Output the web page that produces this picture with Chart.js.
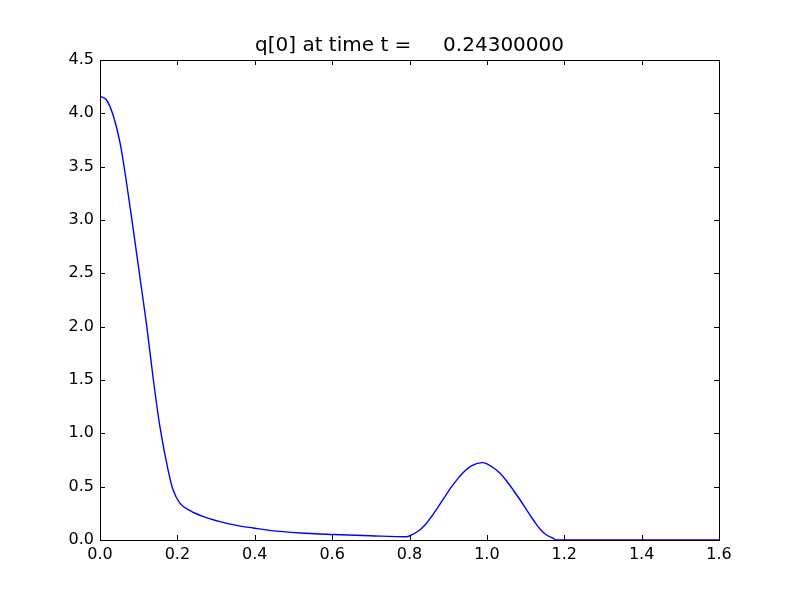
<!DOCTYPE html>
<html>
<head>
<meta charset="utf-8">
<script src="https://cdn.jsdelivr.net/npm/chart.js@4/dist/chart.umd.min.js"></script>
<style>
html,body{margin:0;padding:0;background:#fff;}
#wrap{width:800px;height:600px;}
</style>
</head>
<body>
<div id="wrap"><canvas id="c" width="800" height="600"></canvas></div>
<script>
const titleText = "q[0] at time t =     0.24300000";
const xValues = [0, 0.017, 0.035, 0.052, 0.069, 0.086, 0.103, 0.121, 0.138, 0.155, 0.176, 0.189, 0.207, 0.233, 0.267, 0.31, 0.353, 0.396, 0.439, 0.517, 0.603, 0.7, 0.793, 0.798, 0.823, 0.84, 0.857, 0.874, 0.892, 0.909, 0.926, 0.943, 0.961, 0.988, 1.016, 1.034, 1.051, 1.068, 1.086, 1.103, 1.12, 1.137, 1.154, 1.172, 1.18, 1.6];
const qValues = [4.16, 4.125, 3.97, 3.72, 3.34, 2.91, 2.47, 2.0, 1.5, 1.06, 0.656, 0.469, 0.344, 0.275, 0.219, 0.172, 0.137, 0.1125, 0.09, 0.066, 0.052, 0.04, 0.031, 0.035, 0.084, 0.14, 0.22, 0.31, 0.41, 0.5, 0.58, 0.647, 0.697, 0.725, 0.68, 0.625, 0.553, 0.469, 0.375, 0.281, 0.1875, 0.103, 0.047, 0.016, 0.0, 0.0];
const xTicks = [0.0, 0.2, 0.4, 0.6, 0.8, 1.0, 1.2, 1.4, 1.6];
const yTicks = [0.0, 0.5, 1.0, 1.5, 2.0, 2.5, 3.0, 3.5, 4.0, 4.5];

const points = xValues.map((x, i) => ({x: x, y: qValues[i]}));

const framePlugin = {
  id: 'frame',
  afterDatasetsDraw(chart) {
    const {ctx, chartArea: a, scales} = chart;
    ctx.save();
    ctx.strokeStyle = '#000';
    ctx.lineWidth = 1;
    const L = 5;
    ctx.beginPath();
    xTicks.forEach(v => {
      const px = Math.round(scales.x.getPixelForValue(v)) + 0.5;
      ctx.moveTo(px, a.bottom); ctx.lineTo(px, a.bottom - L);
      ctx.moveTo(px, a.top); ctx.lineTo(px, a.top + L);
    });
    yTicks.forEach(v => {
      const py = Math.round(scales.y.getPixelForValue(v)) + 0.5;
      ctx.moveTo(a.left, py); ctx.lineTo(a.left + L, py);
      ctx.moveTo(a.right, py); ctx.lineTo(a.right - L, py);
    });
    ctx.stroke();
    ctx.strokeRect(Math.round(a.left) + 0.5, Math.round(a.top) + 0.5, Math.round(a.right - a.left), Math.round(a.bottom - a.top));
    ctx.restore();
  }
};

new Chart(document.getElementById('c'), {
  type: 'line',
  data: {
    datasets: [{
      data: points,
      borderColor: '#0000ff',
      borderWidth: 1.4,
      pointRadius: 0,
      fill: false,
      cubicInterpolationMode: 'monotone'
    }]
  },
  options: {
    responsive: false,
    animation: false,
    devicePixelRatio: 1,
    layout: {padding: {left: 0, right: 81, top: 0, bottom: 0}},
    plugins: {
      legend: {display: false},
      tooltip: {enabled: false},
      title: {
        display: true,
        text: titleText,
        fullSize: false,
        color: '#000',
        font: {family: 'DejaVu Sans', size: 20, weight: 'normal', lineHeight: 1.2},
        padding: {top: 34, bottom: 2}
      }
    },
    scales: {
      x: {
        type: 'linear',
        min: 0, max: 1.6,
        afterBuildTicks: s => { s.ticks = xTicks.map(v => ({value: v})); },
        afterFit: s => { s.height = 60; },
        grid: {display: false, drawTicks: false},
        border: {display: false},
        ticks: {
          color: '#000',
          font: {family: 'DejaVu Sans', size: 16},
          padding: 5,
          maxRotation: 0,
          autoSkip: false,
          callback: v => Number(v).toFixed(1)
        }
      },
      y: {
        type: 'linear',
        min: 0, max: 4.5,
        afterBuildTicks: s => { s.ticks = yTicks.map(v => ({value: v})); },
        afterFit: s => { s.width = 100; },
        grid: {display: false, drawTicks: false},
        border: {display: false},
        ticks: {
          color: '#000',
          font: {family: 'DejaVu Sans', size: 16},
          padding: 6,
          autoSkip: false,
          callback: v => Number(v).toFixed(1)
        }
      }
    }
  },
  plugins: [framePlugin]
});
</script>
</body>
</html>
